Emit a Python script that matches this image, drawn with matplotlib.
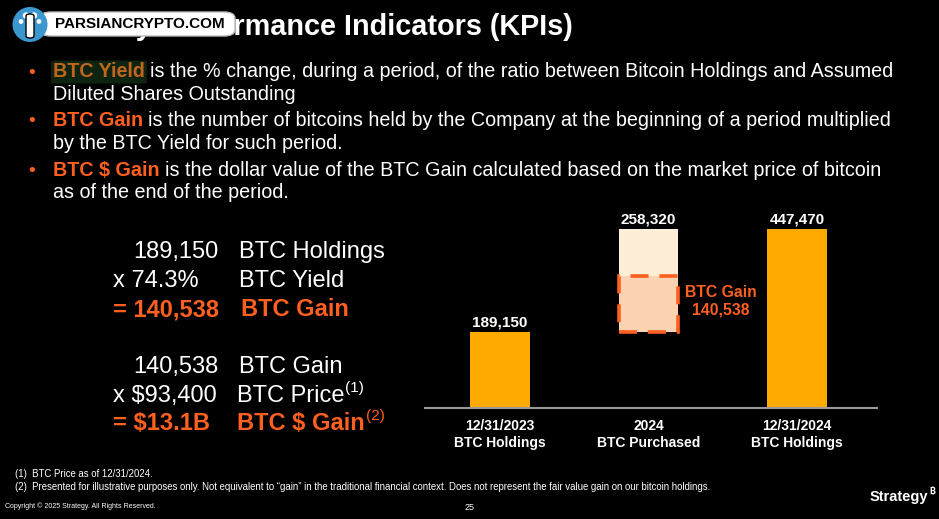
import matplotlib.pyplot as plt
from matplotlib.patches import Ellipse, FancyBboxPatch

plt.rcParams['font.family'] = ['Liberation Sans', 'DejaVu Sans']

# chart data
categories = ["12/31/2023\nBTC Holdings", "2024\nBTC Purchased", "12/31/2024\nBTC Holdings"]
start_holdings = 189150
purchased = 258320
end_holdings = 447470
btc_gain = 140538

# left-hand calculation
calc_rows = [
    ("189,150", "BTC Holdings", ""),
    ("x 74.3%", "BTC Yield", ""),
    ("= 140,538", "BTC Gain", ""),
    ("140,538", "BTC Gain", ""),
    ("x $93,400", "BTC Price", "(1)"),
    ("= $13.1B", "BTC $ Gain", "(2)"),
]

bullets = [
    ("BTC Yield", "is the % change, during a period, of the ratio between Bitcoin Holdings and Assumed",
     "Diluted Shares Outstanding"),
    ("BTC Gain", "is the number of bitcoins held by the Company at the beginning of a period multiplied",
     "by the BTC Yield for such period."),
    ("BTC $ Gain", "is the dollar value of the BTC Gain calculated based on the market price of bitcoin",
     "as of the end of the period."),
]

footnotes = [
    "(1)  BTC Price as of 12/31/2024.",
    "(2)  Presented for illustrative purposes only. Not equivalent to \u201cgain\u201d in the traditional financial context. "
    "Does not represent the fair value gain on our bitcoin holdings.",
]

W, H = 939, 519
ORANGE = "#FF5F1F"
BAR = "#FFAA00"
CREAM = "#FDEED8"
PEACH = "#FCD3B0"

fig = plt.figure(figsize=(W / 100, H / 100), dpi=100, facecolor="black")
renderer = fig.canvas.get_renderer()


def fx(x):
    return x / W


def fy(y):
    return 1 - y / H


def put(x, y, s, **kw):
    kw.setdefault("color", "white")
    kw.setdefault("va", "center")
    return fig.text(fx(x), fy(y), s, **kw)


def blob(x, y, rx, ry, color, z):
    fig.patches.append(Ellipse((fx(x), fy(y)), 2 * rx / W, 2 * ry / H, transform=fig.transFigure,
                               facecolor=color, edgecolor="none", zorder=z))


# title + watermark
put(573, 27, "Key Performance Indicators (KPIs)", fontsize=20.8, fontweight="bold", ha="right")
fig.patches.append(FancyBboxPatch((fx(40), fy(36)), 195 / W, 24 / H, boxstyle="round,pad=0,rounding_size=0.012",
                                  transform=fig.transFigure, facecolor="white", edgecolor="#bbbbbb",
                                  lw=1, zorder=5))
blob(30, 24.5, 17.5, 17.5, "#3A97CF", 6)
for dx, dy, r in [(-4, -9, 3.2), (4, -9, 3.2), (-9, -3, 2.4), (9, -3, 2.4), (0, -3, 2.4)]:
    blob(30 + dx, 24.5 + dy, r, r, "white", 7)
fig.patches.append(FancyBboxPatch((fx(26), fy(38)), 8 / W, 24 / H, boxstyle="round,pad=0,rounding_size=0.004",
                                  transform=fig.transFigure, facecolor="white", zorder=7))
put(140, 24, "PARSIANCRYPTO.COM", fontsize=11, fontweight="bold", color="black", ha="center", zorder=8)

# bullets
line_y = [(72, 94), (121, 143), (170, 192)]
for (key, rest, second), (y1, y2) in zip(bullets, line_y):
    put(32, y1 + 1, "\u2022", fontsize=14, color=ORANGE, ha="center")
    if key == "BTC Yield":
        t = put(53, y1, key, fontsize=14.2, fontweight="bold", color="#C0661C",
                bbox=dict(boxstyle="round,pad=0.1", facecolor="#0E2410", edgecolor="none"))
    else:
        t = put(53, y1, key, fontsize=14.2, fontweight="bold", color=ORANGE)
    bb = t.get_window_extent(renderer=renderer)
    put(bb.x1 + 5, y1, rest, fontsize=14.2)
    put(53, y2, second, fontsize=14.2)

# calculation block
calc_y = [252, 281, 310, 367, 396, 424]
for (num, label, sup), y in zip(calc_rows, calc_y):
    orange = num.startswith("=")
    col = ORANGE if orange else "white"
    weight = "bold" if orange else "normal"
    nx = 113 if num[0] in "x=" else 133
    put(nx, y, num, fontsize=17, color=col, fontweight=weight)
    lx = 241 if label == "BTC Gain" and orange else (237 if sup else 239)
    t = put(lx, y, label, fontsize=17, color=col, fontweight=weight)
    if sup:
        bb = t.get_window_extent(renderer=renderer)
        put(bb.x1 + 1, y - 8, sup, fontsize=11, color=col)

# waterfall chart
ax = fig.add_axes([fx(425), fy(408), fx(877) - fx(425), 208 / H])
ax.set_facecolor("black")
xs = range(len(categories))
bw = 0.4
ax.bar(0, start_holdings, width=bw, color=BAR)
ax.bar(1, purchased, width=bw, bottom=start_holdings, color=CREAM)
ax.bar(1, btc_gain, width=bw, bottom=start_holdings, color=PEACH, edgecolor=ORANGE,
       linestyle=(0, (5, 3)), linewidth=2.6)
ax.bar(2, end_holdings, width=bw, color=BAR)
tops = [start_holdings, start_holdings + purchased, end_holdings]
vals = [start_holdings, purchased, end_holdings]
for x, top, v in zip(xs, tops, vals):
    ax.text(x, top + 6000, f"{v:,}", ha="center", va="bottom", color="white", fontsize=11, fontweight="bold")
ax.text(1.485, start_holdings + btc_gain * 0.55, f"BTC Gain\n{btc_gain:,}", ha="center", va="center",
        color=ORANGE, fontsize=11.3, fontweight="bold", linespacing=1.2)
ax.set_xlim(-0.505, 2.54)
ax.set_ylim(0, 520000)
ax.set_xticks(list(xs))
ax.set_xticklabels(categories, color="white", fontsize=10, fontweight="bold", linespacing=1.25)
ax.tick_params(axis="x", length=0, pad=8)
ax.set_yticks([])
for s in ["top", "left", "right"]:
    ax.spines[s].set_visible(False)
ax.spines["bottom"].set_color("#9a9a9a")
ax.spines["bottom"].set_linewidth(1.5)

# footer
put(15, 474, footnotes[0], fontsize=6.9)
put(15, 487, footnotes[1], fontsize=6.9)
put(5, 506, "Copyright \u00a9 2025 Strategy. All Rights Reserved.", fontsize=5)
put(470, 507, "25", fontsize=6.5, ha="center")
t = put(870, 497, "Strategy", fontsize=10.5, fontweight="bold", ha="left")
bb = t.get_window_extent(renderer=renderer)
put(bb.x1 + 0.5, 492, "\u20bf", fontsize=6.5, fontweight="bold", ha="left",
    family=["Inter", "Roboto", "Noto Sans", "Open Sans", "Lato", "DejaVu Sans"])

fig.savefig("out.png", dpi=100, facecolor="black")
